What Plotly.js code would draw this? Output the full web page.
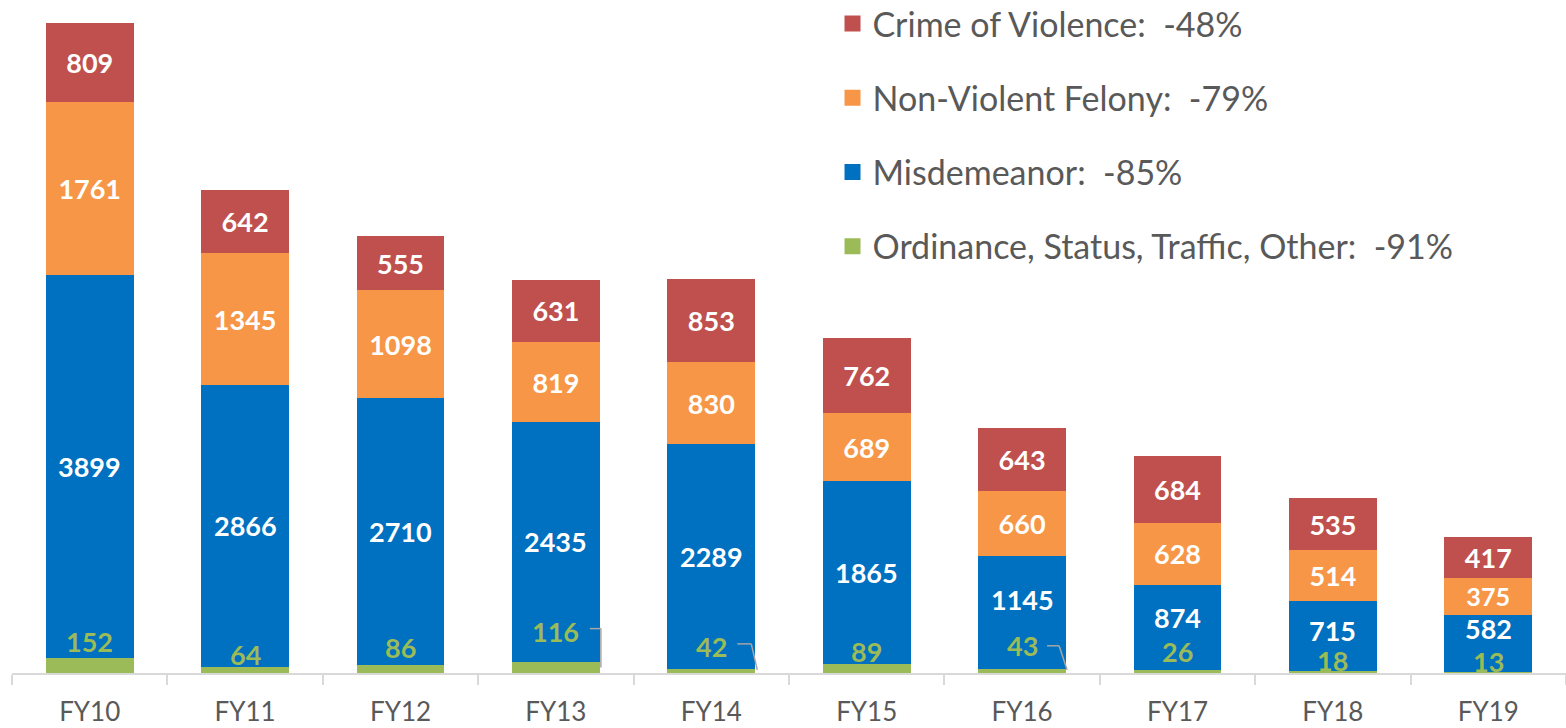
<!DOCTYPE html>
<html><head><meta charset="utf-8">
<script src="https://cdn.plot.ly/plotly-3.0.1.min.js"></script>
<style>html,body{margin:0;padding:0;background:#fff}#chart{width:1566px;height:728px}</style>
</head><body><div id="chart"></div>
<script>
const years = ["FY10","FY11","FY12","FY13","FY14","FY15","FY16","FY17","FY18","FY19"];
const ordinance = [152,64,86,116,42,89,43,26,18,13];
const misdemeanor = [3899,2866,2710,2435,2289,1865,1145,874,715,582];
const nonViolent = [1761,1345,1098,819,830,689,660,628,514,375];
const violence = [809,642,555,631,853,762,643,684,535,417];
const seriesNames = [
  "Ordinance, Status, Traffic, Other:\u00a0 -91%",
  "Misdemeanor:\u00a0 -85%",
  "Non-Violent Felony:\u00a0 -79%",
  "Crime of Violence:\u00a0 -48%"
];
const colors = ["#9BBB59","#0070C0","#F79646","#C0504D"];
// pixel lifts of labels that the original moved to avoid overlaps
const greenLift = [17,12,17,30,22,13,23,19,11,10];
const blueLift = [0,0,0,0,0,0,13,10,6,15];
const FONT = "Lato, 'Open Sans', sans-serif";
const bargap = 0.434;

const values = [ordinance, misdemeanor, nonViolent, violence];
const traces = values.map((v,k)=>({
  type:"bar", x:years, y:v, name:seriesNames[k],
  marker:{color:colors[k], line:{width:0}},
  showlegend:false,
  text: k>=2 ? v.map(String) : undefined,
  textposition: k>=2 ? "inside" : "none",
  insidetextanchor:"middle",
  textangle:0,
  textfont:{family:FONT, size:27, color:"#ffffff", weight:"bold"},
  hoverinfo:"x+y+name"
}));
// legend entries (square swatches), top to bottom
[3,2,1,0].forEach(k=>{
  traces.push({type:"scatter", mode:"markers", x:[years[0]], y:[null], name:seriesNames[k],
    legendgroup:"g"+k, marker:{symbol:"square", size:17, color:colors[k]}, hoverinfo:"skip"});
});

const annotations = [];
years.forEach((yr,i)=>{
  annotations.push({x:yr, y:ordinance[i], xref:"x", yref:"y",
    text:String(ordinance[i]), showarrow:false, yanchor:"middle", yshift:greenLift[i],
    font:{family:FONT, size:27, color:"#9BBB59", weight:"bold"}});
  annotations.push({x:yr, y:ordinance[i]+misdemeanor[i]/2, xref:"x", yref:"y",
    text:String(misdemeanor[i]), showarrow:false, yanchor:"middle", yshift:blueLift[i],
    font:{family:FONT, size:27, color:"#ffffff", weight:"bold"}});
});

// leader lines for FY13, FY14, FY16 (pixel offsets from bar's right edge at green top)
const leaders = [
  {i:3, pts:[[-10,33],[1,33],[1,-6]]},
  {i:4, pts:[[-18,25],[-4,25],[2,-1]]},
  {i:6, pts:[[-19,23],[-7,23],[1,-1]]}
];
const half = (1-bargap)/2;
const shapes = [];
leaders.forEach(L=>{
  for(let s=0;s<L.pts.length-1;s++){
    shapes.push({type:"line", xref:"x", yref:"y",
      xsizemode:"pixel", ysizemode:"pixel",
      xanchor:L.i+half, yanchor:ordinance[L.i],
      x0:L.pts[s][0], x1:L.pts[s+1][0],
      y0:L.pts[s][1], y1:L.pts[s+1][1],
      line:{color:"#a6a6a6", width:1.5}});
  }
});

const layout = {
  width:1566, height:728,
  margin:{l:12, r:0, t:0, b:55, autoexpand:false},
  barmode:"stack", bargap:bargap,
  paper_bgcolor:"#fff", plot_bgcolor:"#fff",
  font:{family:FONT, color:"#595959"},
  xaxis:{type:"category", range:[-0.5, years.length-0.5], tickson:"boundaries", ticks:"outside",
    ticklen:10, tickwidth:2, automargin:false,
    tickcolor:"#d9d9d9", showline:true, linecolor:"#d9d9d9", linewidth:2,
    tickfont:{family:FONT, size:26, color:"#595959"}, ticklabelstandoff:15,
    showgrid:false, zeroline:false, fixedrange:true},
  yaxis:{range:[0,6850], visible:false, showgrid:false, zeroline:false, fixedrange:true},
  legend:{x:0.528, y:1.0075, xanchor:"left", yanchor:"top", traceorder:"grouped",
    tracegroupgap:27, font:{family:FONT, size:34, color:"#595959"}, bgcolor:"rgba(0,0,0,0)"},
  showlegend:true,
  annotations:annotations,
  shapes:shapes
};
Plotly.newPlot("chart", traces, layout, {displayModeBar:false, staticPlot:true});
</script></body></html>
